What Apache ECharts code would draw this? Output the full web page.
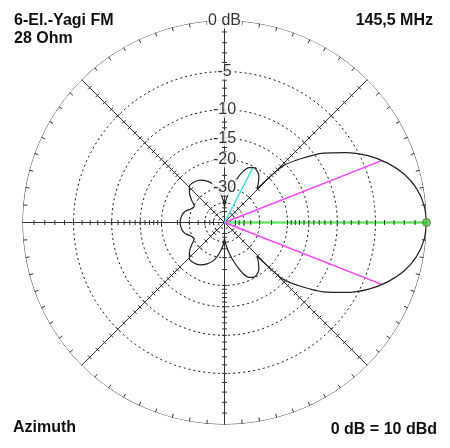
<!DOCTYPE html>
<html><head><meta charset="utf-8">
<script src="https://cdn.jsdelivr.net/npm/echarts@6/dist/echarts.min.js"></script>
<style>html,body{margin:0;padding:0;background:#fff}#c{width:450px;height:448px}</style>
</head><body><div id="c"></div>
<script>
// Azimuth pattern (half, symmetric about 0°): angle in degrees, relative gain in dB
const patternAngles = [0, 5, 10, 15, 20, 25, 30, 35, 40, 44, 45, 46, 48, 50, 54, 58, 62, 66, 70, 74, 78, 83, 88, 90, 93, 99, 105, 112, 120, 128, 134, 140, 146, 152, 158, 164, 170, 180];
const patternDb     = [0, -0.15, -0.6, -1.4, -2.6, -4.2, -6.3, -8.8, -12.2, -15.5, -18.5, -25, -24, -23, -21.3, -20.5, -20.2, -20.8, -22.5, -25.5, -29, -34, -40, -44, -38, -32.5, -28.5, -26, -24.3, -23.7, -23.8, -25.5, -28, -30.5, -29.5, -27.5, -26.5, -26];

// grid
const ringDb = [-5, -10, -15, -20, -30, -40, -50, -60];
const ringLabelDb = [0, -5, -10, -15, -20, -30];
const ringLabelText = ['0 dB', '-5', '-10', '-15', '-20', '-30'];
const spokeAngles = [0, 45, 90, 135, 180, 225, 270, 315];
const spokeTickDb = [-1,-2,-3,-4,-5,-6,-7,-8,-9,-10,-11,-12,-13,-14,-15,-16,-17,-18,-19,-20,-25,-30,-35,-40,-45,-50];

// markers
const mainDirAngle = 0, mainDirDb = 0;
const beamAngles = [21.5, -21.5], beamDb = [-3, -3];
const sideLobeAngle = 62.6, sideLobeDb = -20.5;

// texts
const titleLines = ['6-El.-Yagi FM', '28 Ohm'];
const freqText = '145,5 MHz';
const modeText = 'Azimuth';
const refText = '0 dB = 10 dBd';

// ARRL-style log scale: radius factor 0.89 per 2 dB
function rho(db) { return Math.pow(0.89, -db / 2); }

const patternData = [];
patternAngles.forEach((a, i) => patternData.push([rho(patternDb[i]), a]));
for (let i = patternAngles.length - 2; i >= 0; i--) patternData.push([rho(patternDb[i]), 360 - patternAngles[i]]);

function circle(r) { const d = []; for (let a = 0; a <= 360; a += 1) d.push([r, a]); return d; }

const series = [];
ringDb.forEach(db => series.push({
  type: 'line', coordinateSystem: 'polar', data: circle(rho(db)), symbol: 'none', silent: true, z: 1,
  lineStyle: { color: '#111', width: 1, type: [2, 3] }
}));
series.push({
  type: 'line', coordinateSystem: 'polar', data: circle(1), symbol: 'none', silent: true, z: 2,
  lineStyle: { color: '#333', width: 1 }
});
spokeAngles.forEach(a => series.push({
  type: 'line', coordinateSystem: 'polar', data: [[0, a], [1, a]], symbol: 'none', silent: true, z: 2,
  lineStyle: { color: '#333', width: 1 }
}));
// green main direction
series.push({
  type: 'line', coordinateSystem: 'polar', data: [[0, mainDirAngle], [rho(mainDirDb), mainDirAngle]], symbol: 'none', z: 3,
  lineStyle: { color: '#66e866', width: 2.5 }
});
// spoke ticks
const tickData = [];
spokeAngles.forEach(a => spokeTickDb.forEach(db => tickData.push([rho(db), a])));
series.push({
  type: 'custom', coordinateSystem: 'polar', data: tickData, z: 4, silent: true,
  renderItem: function (params, api) {
    const r = api.value(0), a = api.value(1);
    const p = api.coord([r, a]);
    const rad = a * Math.PI / 180;
    const ux = Math.cos(rad), uy = -Math.sin(rad);
    const px = -uy, py = ux, L = 2.5;
    return { type: 'line', shape: { x1: p[0] - px * L, y1: p[1] - py * L, x2: p[0] + px * L, y2: p[1] + py * L }, style: { stroke: '#333', lineWidth: 1 } };
  }
});
// rim ticks every 5 degrees
const rimData = [];
for (let a = 0; a < 360; a += 5) rimData.push([1, a]);
series.push({
  type: 'custom', coordinateSystem: 'polar', data: rimData, z: 4, silent: true,
  renderItem: function (params, api) {
    const a = api.value(1);
    const p = api.coord([api.value(0), a]);
    const rad = a * Math.PI / 180;
    const ux = Math.cos(rad), uy = -Math.sin(rad), L = 4;
    return { type: 'line', shape: { x1: p[0], y1: p[1], x2: p[0] - ux * L, y2: p[1] - uy * L }, style: { stroke: '#333', lineWidth: 1 } };
  }
});
// beamwidth lines
beamAngles.forEach((a, i) => series.push({
  type: 'line', coordinateSystem: 'polar', data: [[0, a], [rho(beamDb[i]), a]], symbol: 'none', z: 5,
  lineStyle: { color: '#ff40ff', width: 1.5 }
}));
// side lobe line
series.push({
  type: 'line', coordinateSystem: 'polar', data: [[0, sideLobeAngle], [rho(sideLobeDb), sideLobeAngle]], symbol: 'none', z: 5,
  lineStyle: { color: '#40e0e0', width: 1.5 }
});
// pattern
series.push({
  type: 'line', coordinateSystem: 'polar', data: patternData, symbol: 'none', smooth: 0.3, z: 6,
  lineStyle: { color: '#222', width: 1.2 }
});
// green dot
series.push({
  type: 'scatter', coordinateSystem: 'polar', data: [[rho(mainDirDb), mainDirAngle]], symbolSize: 8, z: 7,
  itemStyle: { color: '#3ccc3c', borderColor: '#8a5a4a', borderWidth: 1 }
});
// ring labels
series.push({
  type: 'scatter', coordinateSystem: 'polar', symbolSize: 1, z: 8,
  itemStyle: { color: 'rgba(0,0,0,0)' },
  data: ringLabelDb.map((db, i) => ({ value: [rho(db), 90], name: ringLabelText[i] })),
  label: {
    show: true, position: 'inside', formatter: '{b}', color: '#000',
    fontFamily: 'Liberation Sans, Arial, sans-serif', fontSize: 16,
    backgroundColor: '#fff', padding: [0, 1, 0, 1]
  }
});

const font = 'bold 16px "Liberation Sans", Arial, sans-serif';
const chart = echarts.init(document.getElementById('c'), null, { renderer: 'canvas' });
chart.setOption({
  animation: false,
  backgroundColor: '#fff',
  polar: { center: [224.5, 222.5], radius: 202 },
  angleAxis: { type: 'value', min: 0, max: 360, startAngle: 0, clockwise: false,
    axisLine: { show: false }, axisTick: { show: false }, axisLabel: { show: false }, splitLine: { show: false } },
  radiusAxis: { type: 'value', min: 0, max: 1,
    axisLine: { show: false }, axisTick: { show: false }, axisLabel: { show: false }, splitLine: { show: false } },
  series: series,
  graphic: [
    { type: 'text', left: 14, top: 13, style: { text: titleLines[0], font: font, fill: '#111' } },
    { type: 'text', left: 14, top: 30.5, style: { text: titleLines[1], font: font, fill: '#111' } },
    { type: 'text', right: 17, top: 12.5, style: { text: freqText, font: font, fill: '#111' } },
    { type: 'text', left: 13, top: 419.5, style: { text: modeText, font: font, fill: '#111' } },
    { type: 'text', right: 13, top: 421.5, style: { text: refText, font: font, fill: '#111' } }
  ]
});
</script></body></html>
